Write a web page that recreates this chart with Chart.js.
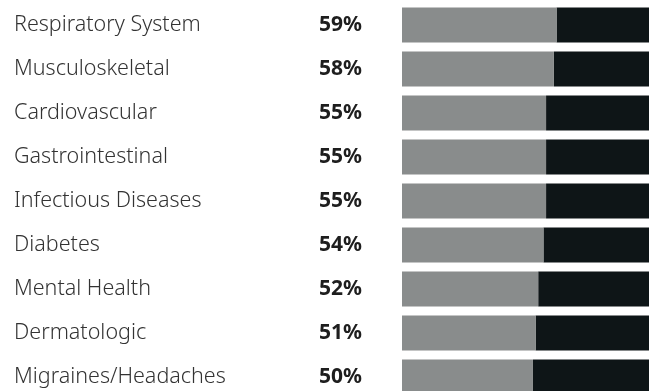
<!DOCTYPE html>
<html>
<head>
<meta charset="utf-8">
<script src="https://cdn.jsdelivr.net/npm/chart.js@4"></script>
<style>
html, body { margin: 0; padding: 0; background: #fff; overflow: hidden; }
#wrap { position: relative; width: 649px; height: 400px; }
</style>
</head>
<body>
<div id="wrap"><canvas id="chart"></canvas></div>
<script>
const categories = ['Respiratory System', 'Musculoskeletal', 'Cardiovascular', 'Gastrointestinal',
    'Infectious Diseases', 'Diabetes', 'Mental Health', 'Dermatologic', 'Migraines/Headaches'];
const shares = [59, 58, 55, 55, 55, 54, 52, 51, 50];
const remainder = shares.map(v => 100 - v);

// draws the name and the bold percentage in front of each bar
const rowText = {
    id: 'rowText',
    afterDraw(chart) {
        const ctx = chart.ctx;
        const y = chart.scales.y;
        ctx.save();
        ctx.textBaseline = 'middle';
        for (let i = 0; i < categories.length; i++) {
            const py = y.getPixelForValue(i);
            ctx.font = '300 21.5px "Noto Sans"';
            ctx.fillStyle = '#333333';
            ctx.textAlign = 'left';
            ctx.fillText(categories[i], 14, py);
            ctx.font = 'bold 21px "Noto Sans"';
            ctx.fillStyle = '#1e1e1e';
            ctx.textAlign = 'right';
            ctx.fillText(shares[i] + '%', 362, py);
        }
        ctx.restore();
    }
};

new Chart(document.getElementById('chart'), {
    type: 'bar',
    data: {
        labels: categories,
        datasets: [
            { data: shares, backgroundColor: '#898c8c', barPercentage: 0.795, categoryPercentage: 1 },
            { data: remainder, backgroundColor: '#0e1517', barPercentage: 0.795, categoryPercentage: 1 }
        ]
    },
    options: {
        indexAxis: 'y',
        responsive: true,
        maintainAspectRatio: false,
        animation: false,
        layout: { padding: { left: 402, top: 3, bottom: 1, right: 0 } },
        plugins: { legend: { display: false }, tooltip: { enabled: false } },
        scales: {
            x: { stacked: true, min: 0, max: 94.3, display: false },
            y: { stacked: true, display: false }
        }
    },
    plugins: [rowText]
});
</script>
</body>
</html>
